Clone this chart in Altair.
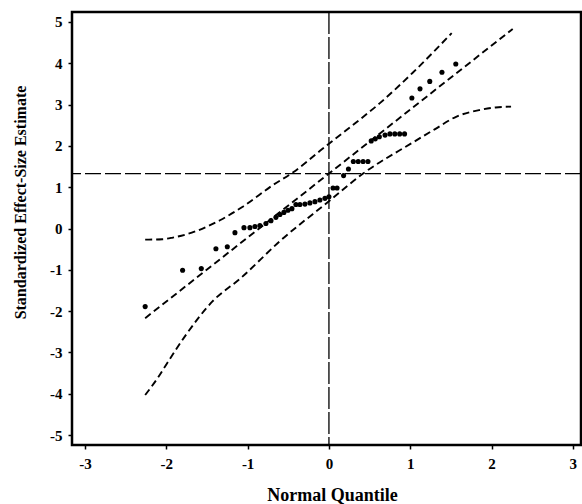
import altair as alt
import pandas as pd

# Observed points (normal quantile, standardized effect-size estimate)
pt_x = [-2.26, -1.80, -1.57, -1.39, -1.25,
        -1.156, -1.045, -0.972, -0.910, -0.849, -0.775, -0.713, -0.652, -0.603, -0.554,
        -0.504, -0.455, -0.406, -0.357, -0.295, -0.234, -0.172, -0.111, -0.049, 0.0,
        0.05, 0.10, 0.18, 0.24, 0.30, 0.36, 0.42, 0.48,
        0.52, 0.57, 0.62, 0.69, 0.75, 0.81, 0.87, 0.93,
        1.02, 1.12, 1.24, 1.39, 1.56]
pt_y = [-1.89, -1.01, -0.97, -0.49, -0.44,
        -0.10, 0.02, 0.02, 0.05, 0.07, 0.12, 0.19, 0.27, 0.34, 0.39,
        0.44, 0.48, 0.58, 0.58, 0.59, 0.62, 0.65, 0.69, 0.73, 0.77,
        0.98, 0.98, 1.28, 1.44, 1.62, 1.62, 1.62, 1.62,
        2.12, 2.17, 2.22, 2.26, 2.29, 2.29, 2.29, 2.29,
        3.16, 3.38, 3.56, 3.78, 3.98]

# Fitted reference line
mid_x = [-2.26, 2.26]
mid_y = [-2.17, 4.83]

# Confidence band
up_x = [-2.26, -2.05, -1.92, -1.75, -1.63, -1.34, -1.05, -0.69, -0.44, -0.11, 0.22, 0.63, 1.03, 1.51]
up_y = [-0.27, -0.26, -0.22, -0.14, -0.06, 0.20, 0.54, 1.05, 1.36, 1.88, 2.39, 3.04, 3.77, 4.73]
lo_x = [-2.26, -2.10, -1.99, -1.75, -1.43, -1.09, -0.60, 0.00, 0.42, 1.03, 1.30, 1.57, 1.86, 2.05, 2.24]
lo_y = [-4.03, -3.60, -3.26, -2.55, -1.76, -1.21, -0.30, 0.66, 1.33, 2.08, 2.40, 2.71, 2.87, 2.93, 2.95]

h_ref = 1.33
v_ref = 0.0

x_ticks = [-3, -2, -1, 0, 1, 2, 3]
y_ticks = [-5, -4, -3, -2, -1, 0, 1, 2, 3, 4, 5]

FONT = "Liberation Serif"

xs = alt.Scale(domain=[-3.16, 3.1], nice=False, zero=False)
ys = alt.Scale(domain=[-5.24, 5.24], nice=False, zero=False)

x_axis = alt.Axis(values=x_ticks, labelExpr="'' + datum.value", title="Normal Quantile",
                  titleX=260, titleY=50, titleBaseline="middle", titleAlign="center",
                  labelPadding=7, tickSize=4, grid=False, domain=False,
                  labelFont=FONT, labelFontWeight="bold", labelFontSize=15, labelColor="black",
                  titleFont=FONT, titleFontWeight="bold", titleFontSize=18, titleColor="black",
                  tickColor="black", tickWidth=1.5)
y_axis = alt.Axis(values=y_ticks, labelExpr="'' + datum.value", title="Standardized Effect-Size Estimate",
                  titleX=-52, titleY=190, titleAngle=270, titleBaseline="middle", titleAlign="center",
                  labelPadding=6, tickSize=4, grid=False, domain=False,
                  labelFont=FONT, labelFontWeight="bold", labelFontSize=15, labelColor="black",
                  titleFont=FONT, titleFontWeight="bold", titleFontSize=16, titleColor="black",
                  tickColor="black", tickWidth=1.5)

pts = pd.DataFrame({"x": pt_x, "y": pt_y})
lines = pd.concat([
    pd.DataFrame({"x": mid_x, "y": mid_y, "s": "mid"}),
    pd.DataFrame({"x": up_x, "y": up_y, "s": "up"}),
    pd.DataFrame({"x": lo_x, "y": lo_y, "s": "lo"}),
])

base_pts = alt.Chart(pts).mark_circle(size=26, color="black", opacity=1).encode(
    x=alt.X("x:Q", scale=xs, axis=x_axis),
    y=alt.Y("y:Q", scale=ys, axis=y_axis),
)

band = alt.Chart(lines).mark_line(color="black", strokeWidth=1.9, strokeDash=[7, 4],
                                   interpolate="monotone").encode(
    x=alt.X("x:Q", scale=xs),
    y=alt.Y("y:Q", scale=ys),
    detail="s:N",
)

hrule = alt.Chart(pd.DataFrame({"y": [h_ref]})).mark_rule(
    color="black", strokeWidth=1.3, strokeDash=[16, 4]).encode(y=alt.Y("y:Q", scale=ys))
vrule = alt.Chart(pd.DataFrame({"x": [v_ref]})).mark_rule(
    color="black", strokeWidth=1.3, strokeDash=[22, 3]).encode(x=alt.X("x:Q", scale=xs))

chart = alt.layer(hrule, vrule, band, base_pts).properties(
    width=509, height=433,
    background="white",
    autosize=alt.AutoSizeParams(type="none"),
    padding={"left": 72, "top": 12, "right": 1, "bottom": 59},
).configure_view(
    stroke="black", strokeWidth=2.5
)

chart.save("out.html", embed_options={"renderer": "svg", "actions": False})
